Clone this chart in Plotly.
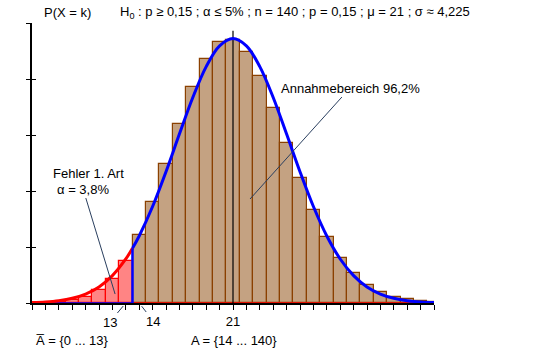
import plotly.graph_objects as go

# --- data ---
k_values = list(range(6, 37))
probabilities = [0.000037, 0.000126, 0.000369, 0.000954, 0.002205, 0.004599, 0.008725,
                 0.01516, 0.02427, 0.03597, 0.04959, 0.06383, 0.07697, 0.08722, 0.09312,
                 0.0939, 0.08963, 0.08115, 0.06981, 0.05716, 0.04462, 0.03325, 0.02368,
                 0.01614, 0.01054, 0.006598, 0.003966, 0.002291, 0.001272, 0.00068, 0.00035]
critical_k = 13          # rejection region: 0 ... 13
mu = 21
# normal approximation curve (estimated values)
curve_x = [6, 7, 8, 9, 10, 11, 12, 13, 13.5, 14, 15, 16, 17, 18, 19, 20, 21, 22, 23, 24, 25,
           26, 27, 28, 29, 30, 31, 32, 33, 34, 35, 36]
curve_y = [0.000173, 0.00039, 0.000831, 0.001672, 0.003185, 0.005736, 0.009769, 0.01572,
           0.01953, 0.02394, 0.03445, 0.04688, 0.06032, 0.07339, 0.08442, 0.09182, 0.09443,
           0.09182, 0.08442, 0.07339, 0.06032, 0.04688, 0.03445, 0.02394, 0.01572, 0.009769,
           0.005736, 0.003185, 0.001672, 0.000831, 0.00039, 0.000173]
mu_line_top = 0.0972
y_ticks = [0, 0.02, 0.04, 0.06, 0.08, 0.10]
x_range = [6, 36]

FONT = "Liberation Sans, Arial, sans-serif"
BROWN_FILL = "#C4A282"
BROWN_EDGE = "#8B4000"
RED_FILL = "#FF8484"
RED = "#FF0000"
BLUE = "#0000FF"

bound = critical_k + 0.5
red_k = [k for k in k_values if k <= critical_k]
red_p = [p for k, p in zip(k_values, probabilities) if k <= critical_k]
brown_k = [k for k in k_values if k > critical_k]
brown_p = [p for k, p in zip(k_values, probabilities) if k > critical_k]

left_x = [x for x in curve_x if x <= bound]
left_y = [y for x, y in zip(curve_x, curve_y) if x <= bound]
right_x = [x for x in curve_x if x >= bound]
right_y = [y for x, y in zip(curve_x, curve_y) if x >= bound]
bound_y = curve_y[curve_x.index(bound)]

fig = go.Figure()
fig.add_trace(go.Bar(x=red_k, y=red_p, width=1, marker=dict(color=RED_FILL, line=dict(color=RED, width=1.2))))
fig.add_trace(go.Bar(x=brown_k, y=brown_p, width=1, marker=dict(color=BROWN_FILL, line=dict(color=BROWN_EDGE, width=1.2))))
# baseline lines
fig.add_trace(go.Scatter(x=[x_range[0], bound], y=[0, 0], mode="lines", line=dict(color=BLUE, width=1.5)))
fig.add_trace(go.Scatter(x=[bound, x_range[1]], y=[0, 0], mode="lines", line=dict(color=RED, width=1.5)))
# mean line
fig.add_trace(go.Scatter(x=[mu, mu], y=[0, mu_line_top], mode="lines", line=dict(color="black", width=1.2)))
# curves
fig.add_trace(go.Scatter(x=left_x, y=left_y, mode="lines", line=dict(color=RED, width=3, shape="spline")))
fig.add_trace(go.Scatter(x=right_x, y=right_y, mode="lines", line=dict(color=BLUE, width=3, shape="spline")))
fig.add_trace(go.Scatter(x=[bound, bound], y=[0, bound_y], mode="lines", line=dict(color=BLUE, width=2.5)))
# dummy for inside ticks axis
fig.add_trace(go.Scatter(x=[x_range[0]], y=[0], yaxis="y2", mode="markers", marker=dict(opacity=0), hoverinfo="skip"))

ticktext = [str(k) if k == mu else "" for k in range(x_range[0], x_range[1] + 1)]

fig.update_layout(
    width=542, height=353,
    margin=dict(l=32, r=108, t=23, b=50),
    paper_bgcolor="white", plot_bgcolor="white",
    showlegend=False, bargap=0,
    font=dict(family=FONT, size=13, color="black"),
    xaxis=dict(range=x_range, showgrid=False, zeroline=False, showline=True, linecolor="black", linewidth=1.5,
               ticks="outside", ticklen=5, tickcolor="black", tickwidth=1,
               tickvals=list(range(x_range[0], x_range[1] + 1)), ticktext=ticktext,
               tickfont=dict(size=13), ticklabelstandoff=1),
    yaxis=dict(range=[0, 0.10], showgrid=False, zeroline=False, showline=True, linecolor="black", linewidth=1.5,
               ticks="outside", ticklen=4, tickcolor="black", tickvals=y_ticks, showticklabels=False),
    yaxis2=dict(range=[0, 0.10], overlaying="y", side="left", showgrid=False, zeroline=False, showline=False,
                ticks="inside", ticklen=4, tickcolor="black", tickvals=y_ticks, showticklabels=False),
)


def px_x(px):
    return (px - 32) / 402


def px_y(py):
    return (303 - py) / 280


def label(px, py, text, anchor="center"):
    return dict(x=px_x(px), y=px_y(py), xref="paper", yref="paper", xanchor=anchor, yanchor="middle",
                text=text, showarrow=False)


anns = [
    label(67, 13, "P(X = k)"),
    label(118, 13, "H<sub>0</sub> : p ≥ 0,15 ; α ≤ 5% ; n = 140 ; p = 0,15 ; μ = 21 ; σ ≈ 4,225", "left"),
    dict(x=13, y=0, xref="x", yref="y", text="13", showarrow=True, arrowhead=0, arrowwidth=1,
         ax=-16, ay=19, standoff=4),
    dict(x=14, y=0, xref="x", yref="y", text="14", showarrow=True, arrowhead=0, arrowwidth=1,
         ax=14, ay=18, standoff=4),
    label(72, 340, "A\u0305 = {0 ... 13}"),
    label(234, 340, "A = {14 ... 140}"),
    label(88, 173, "Fehler 1. Art"),
    dict(x=12.2, y=0.0032, xref="x", yref="y", text="α = 3,8%", showarrow=True, arrowhead=0, arrowwidth=1,
         ax=-32, ay=-105),
    dict(x=22.27, y=0.03714, xref="x", yref="y", text="Annahmebereich 96,2%", showarrow=True, arrowhead=0,
         arrowwidth=1, ax=100, ay=-111),
]
fig.update_layout(annotations=anns)

fig.write_html("out.html")
